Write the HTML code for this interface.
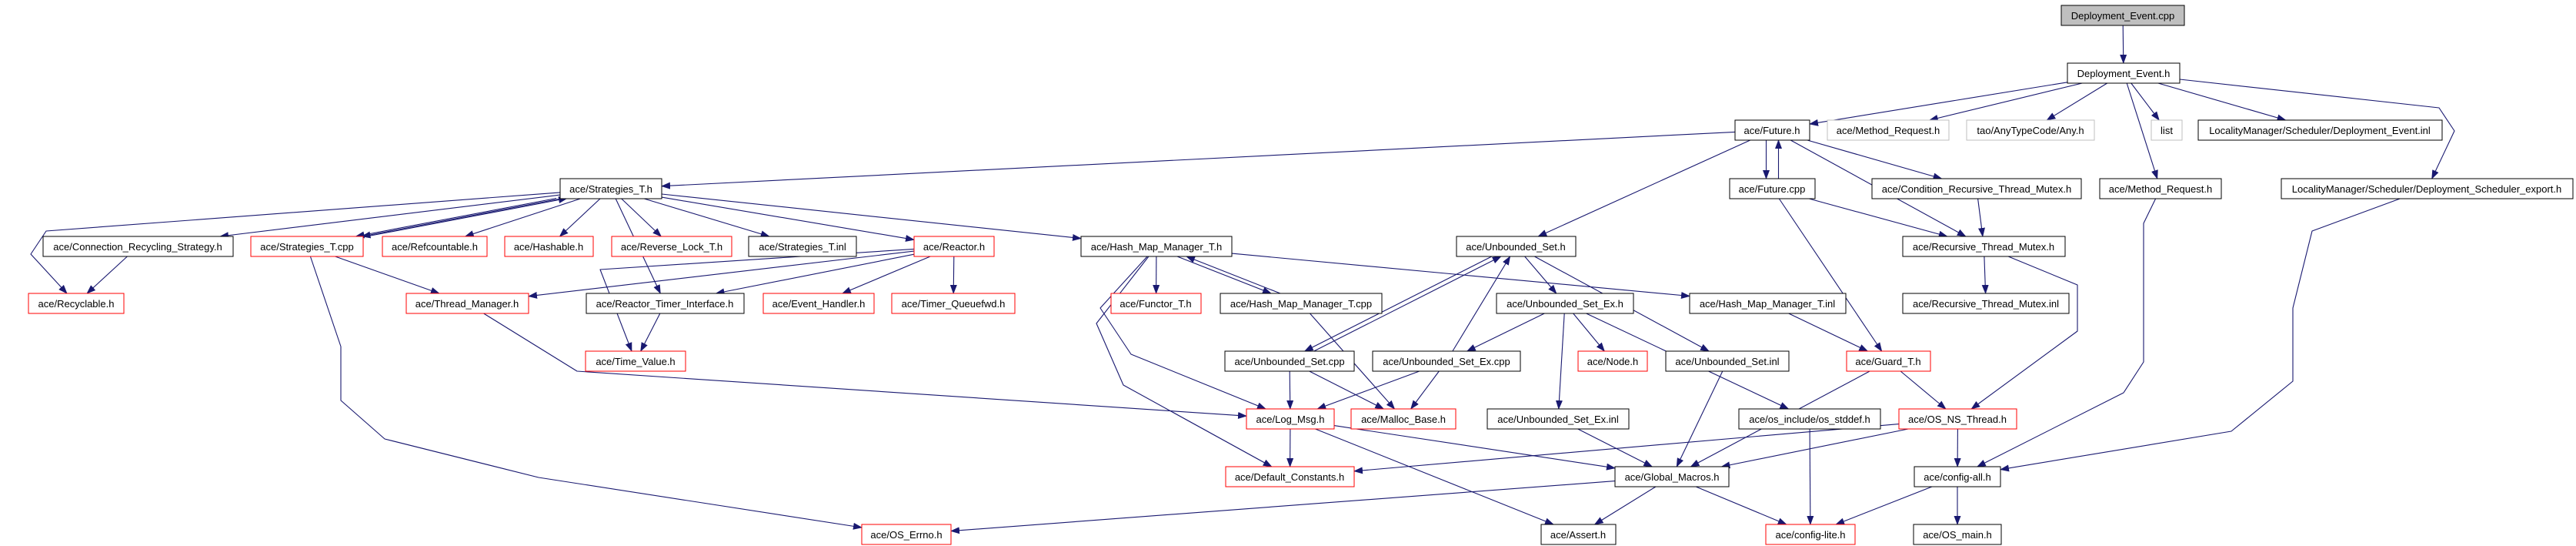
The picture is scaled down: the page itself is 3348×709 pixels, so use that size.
<!DOCTYPE html>
<html><head><meta charset="utf-8"><style>
html,body{margin:0;padding:0;background:#fff;}
svg{display:block;}
text{font-family:"Liberation Sans",sans-serif;font-size:13px;fill:#000;}
</style></head><body>
<svg id="g" width="3348" height="709" viewBox="0 0 3348 709" xmlns="http://www.w3.org/2000/svg">
<defs><marker id="a" markerWidth="12" markerHeight="9" refX="11" refY="4.5" orient="auto" markerUnits="userSpaceOnUse"><path d="M0,0 L12,4.5 L0,9 z" fill="#191970"/></marker></defs>
<g id="edges" stroke="#191970" stroke-width="1.1" fill="none" stroke-linejoin="round"></g>
<g id="nodes">
<rect id="dcpp" x="2679" y="7" width="160" height="26" fill="#bfbfbf" stroke="#000"/><text x="2759" y="25" text-anchor="middle">Deployment_Event.cpp</text>
<rect id="deh" x="2687" y="82" width="146" height="26" fill="#fff" stroke="#000"/><text x="2760" y="100" text-anchor="middle">Deployment_Event.h</text>
<rect id="fut" x="2255" y="156" width="97" height="26" fill="#fff" stroke="#000"/><text x="2303" y="174" text-anchor="middle">ace/Future.h</text>
<rect id="mrq2" x="2375" y="156" width="158" height="26" fill="#fff" stroke="#bfbfbf"/><text x="2454" y="174" text-anchor="middle">ace/Method_Request.h</text>
<rect id="any" x="2556" y="156" width="166" height="26" fill="#fff" stroke="#bfbfbf"/><text x="2639" y="174" text-anchor="middle">tao/AnyTypeCode/Any.h</text>
<rect id="list" x="2796" y="156" width="40" height="26" fill="#fff" stroke="#bfbfbf"/><text x="2816" y="174" text-anchor="middle">list</text>
<rect id="dinl" x="2857" y="156" width="317" height="26" fill="#fff" stroke="#000"/><text x="3015" y="174" text-anchor="middle">LocalityManager/Scheduler/Deployment_Event.inl</text>
<rect id="strh" x="728" y="232" width="132" height="26" fill="#fff" stroke="#000"/><text x="794" y="250" text-anchor="middle">ace/Strategies_T.h</text>
<rect id="futc" x="2248" y="232" width="111" height="26" fill="#fff" stroke="#000"/><text x="2303" y="250" text-anchor="middle">ace/Future.cpp</text>
<rect id="cond" x="2433" y="232" width="272" height="26" fill="#fff" stroke="#000"/><text x="2569" y="250" text-anchor="middle">ace/Condition_Recursive_Thread_Mutex.h</text>
<rect id="mrq" x="2729" y="232" width="158" height="26" fill="#fff" stroke="#000"/><text x="2808" y="250" text-anchor="middle">ace/Method_Request.h</text>
<rect id="sexp" x="2965" y="232" width="379" height="26" fill="#fff" stroke="#000"/><text x="3154" y="250" text-anchor="middle">LocalityManager/Scheduler/Deployment_Scheduler_export.h</text>
<rect id="crs" x="56" y="307" width="247" height="26" fill="#fff" stroke="#000"/><text x="179" y="325" text-anchor="middle">ace/Connection_Recycling_Strategy.h</text>
<rect id="stc" x="326" y="307" width="146" height="26" fill="#fff" stroke="#f00"/><text x="399" y="325" text-anchor="middle">ace/Strategies_T.cpp</text>
<rect id="refc" x="497" y="307" width="136" height="26" fill="#fff" stroke="#f00"/><text x="565" y="325" text-anchor="middle">ace/Refcountable.h</text>
<rect id="hash" x="656" y="307" width="115" height="26" fill="#fff" stroke="#f00"/><text x="713" y="325" text-anchor="middle">ace/Hashable.h</text>
<rect id="rev" x="795" y="307" width="156" height="26" fill="#fff" stroke="#f00"/><text x="873" y="325" text-anchor="middle">ace/Reverse_Lock_T.h</text>
<rect id="stinl" x="973" y="307" width="140" height="26" fill="#fff" stroke="#000"/><text x="1043" y="325" text-anchor="middle">ace/Strategies_T.inl</text>
<rect id="reac" x="1188" y="307" width="104" height="26" fill="#fff" stroke="#f00"/><text x="1240" y="325" text-anchor="middle">ace/Reactor.h</text>
<rect id="hmm" x="1405" y="307" width="196" height="26" fill="#fff" stroke="#000"/><text x="1503" y="325" text-anchor="middle">ace/Hash_Map_Manager_T.h</text>
<rect id="us" x="1893" y="307" width="155" height="26" fill="#fff" stroke="#000"/><text x="1970" y="325" text-anchor="middle">ace/Unbounded_Set.h</text>
<rect id="rtm" x="2473" y="307" width="211" height="26" fill="#fff" stroke="#000"/><text x="2578" y="325" text-anchor="middle">ace/Recursive_Thread_Mutex.h</text>
<rect id="recy" x="37" y="381" width="124" height="26" fill="#fff" stroke="#f00"/><text x="99" y="399" text-anchor="middle">ace/Recyclable.h</text>
<rect id="thr" x="528" y="381" width="159" height="26" fill="#fff" stroke="#f00"/><text x="607" y="399" text-anchor="middle">ace/Thread_Manager.h</text>
<rect id="rti" x="762" y="381" width="205" height="26" fill="#fff" stroke="#000"/><text x="864" y="399" text-anchor="middle">ace/Reactor_Timer_Interface.h</text>
<rect id="evh" x="992" y="381" width="144" height="26" fill="#fff" stroke="#f00"/><text x="1064" y="399" text-anchor="middle">ace/Event_Handler.h</text>
<rect id="tq" x="1159" y="381" width="160" height="26" fill="#fff" stroke="#f00"/><text x="1239" y="399" text-anchor="middle">ace/Timer_Queuefwd.h</text>
<rect id="fun" x="1444" y="381" width="117" height="26" fill="#fff" stroke="#f00"/><text x="1502" y="399" text-anchor="middle">ace/Functor_T.h</text>
<rect id="hmmc" x="1586" y="381" width="210" height="26" fill="#fff" stroke="#000"/><text x="1691" y="399" text-anchor="middle">ace/Hash_Map_Manager_T.cpp</text>
<rect id="usex" x="1945" y="381" width="178" height="26" fill="#fff" stroke="#000"/><text x="2034" y="399" text-anchor="middle">ace/Unbounded_Set_Ex.h</text>
<rect id="hmmi" x="2196" y="381" width="203" height="26" fill="#fff" stroke="#000"/><text x="2297" y="399" text-anchor="middle">ace/Hash_Map_Manager_T.inl</text>
<rect id="rtmi" x="2473" y="381" width="216" height="26" fill="#fff" stroke="#000"/><text x="2581" y="399" text-anchor="middle">ace/Recursive_Thread_Mutex.inl</text>
<rect id="tv" x="761" y="456" width="130" height="26" fill="#fff" stroke="#f00"/><text x="826" y="474" text-anchor="middle">ace/Time_Value.h</text>
<rect id="usc" x="1592" y="456" width="168" height="26" fill="#fff" stroke="#000"/><text x="1676" y="474" text-anchor="middle">ace/Unbounded_Set.cpp</text>
<rect id="usexc" x="1784" y="456" width="192" height="26" fill="#fff" stroke="#000"/><text x="1880" y="474" text-anchor="middle">ace/Unbounded_Set_Ex.cpp</text>
<rect id="node" x="2051" y="456" width="90" height="26" fill="#fff" stroke="#f00"/><text x="2096" y="474" text-anchor="middle">ace/Node.h</text>
<rect id="usi" x="2165" y="456" width="160" height="26" fill="#fff" stroke="#000"/><text x="2245" y="474" text-anchor="middle">ace/Unbounded_Set.inl</text>
<rect id="guard" x="2400" y="456" width="109" height="26" fill="#fff" stroke="#f00"/><text x="2454" y="474" text-anchor="middle">ace/Guard_T.h</text>
<rect id="log" x="1620" y="531" width="114" height="26" fill="#fff" stroke="#f00"/><text x="1677" y="549" text-anchor="middle">ace/Log_Msg.h</text>
<rect id="mal" x="1756" y="531" width="136" height="26" fill="#fff" stroke="#f00"/><text x="1824" y="549" text-anchor="middle">ace/Malloc_Base.h</text>
<rect id="usexi" x="1933" y="531" width="184" height="26" fill="#fff" stroke="#000"/><text x="2025" y="549" text-anchor="middle">ace/Unbounded_Set_Ex.inl</text>
<rect id="stddef" x="2260" y="531" width="184" height="26" fill="#fff" stroke="#000"/><text x="2352" y="549" text-anchor="middle">ace/os_include/os_stddef.h</text>
<rect id="osns" x="2468" y="531" width="153" height="26" fill="#fff" stroke="#f00"/><text x="2544" y="549" text-anchor="middle">ace/OS_NS_Thread.h</text>
<rect id="defc" x="1593" y="606" width="167" height="26" fill="#fff" stroke="#f00"/><text x="1676" y="624" text-anchor="middle">ace/Default_Constants.h</text>
<rect id="glob" x="2099" y="606" width="148" height="26" fill="#fff" stroke="#000"/><text x="2173" y="624" text-anchor="middle">ace/Global_Macros.h</text>
<rect id="call" x="2488" y="606" width="112" height="26" fill="#fff" stroke="#000"/><text x="2544" y="624" text-anchor="middle">ace/config-all.h</text>
<rect id="errno" x="1120" y="681" width="116" height="26" fill="#fff" stroke="#f00"/><text x="1178" y="699" text-anchor="middle">ace/OS_Errno.h</text>
<rect id="assert" x="2003" y="681" width="97" height="26" fill="#fff" stroke="#000"/><text x="2051" y="699" text-anchor="middle">ace/Assert.h</text>
<rect id="clite" x="2295" y="681" width="116" height="26" fill="#fff" stroke="#f00"/><text x="2353" y="699" text-anchor="middle">ace/config-lite.h</text>
<rect id="osmain" x="2487" y="681" width="114" height="26" fill="#fff" stroke="#000"/><text x="2544" y="699" text-anchor="middle">ace/OS_main.h</text>
</g>
</svg>
<script>
(function(){
var E=[["dcpp","deh"],["deh","fut"],["deh","mrq2"],["deh","any"],["deh","list"],["deh","dinl"],["deh","mrq"],["deh","sexp",0,[[3170,140],[3190,170]]],
["fut","strh"],["fut","futc",-8],["futc","fut",8],["fut","cond"],["fut","rtm"],["fut","us"],["futc","rtm"],["futc","guard"],
["cond","rtm"],["rtm","rtmi"],["rtm","osns",0,[[2700,370],[2700,430]]],["mrq","call",0,[[2786,290],[2786,470],[2760,510]]],["sexp","call",0,[[3005,300],[2980,400],[2980,495],[2900,560]]],["osns","call"],["osns","glob"],["osns","defc"],
["call","clite"],["call","osmain"],["guard","osns"],["guard","glob"],["hmmi","guard"],["glob","assert"],["glob","clite"],["glob","errno"],
["stddef","clite"],["usex","stddef"],["usex","node"],["usex","usexi"],["usex","usexc"],["us","usex"],["us","usi"],["us","usc",-6],
["usc","us",6],["usexc","us"],["usc","log"],["usc","mal"],["usexc","log"],["usexc","mal"],["usi","glob"],["usexi","glob"],
["log","defc"],["log","glob"],["log","assert"],["hmm","fun"],["hmm","hmmc",-6],["hmmc","hmm",6],["hmm","hmmi"],["hmm","log",0,[[1430,400],[1470,460]]],["hmm","defc",0,[[1425,420],[1460,500]]],
["hmmc","mal"],["strh","recy",0,[[60,300],[40,330]]],["strh","crs"],["strh","stc",-5],["strh","stc",3],["stc","strh",9],["strh","refc"],["strh","hash"],["strh","rev"],
["strh","stinl"],["strh","reac"],["strh","hmm"],["strh","rti"],["stc","thr"],["stc","errno",0,[[443,450],[443,520],[500,570],[700,620]]],["crs","recy"],["reac","thr"],["reac","rti"],
["reac","evh"],["reac","tq"],["reac","tv",0,[[780,350]]],["rti","tv"],["thr","log",0,[[750,482]]]];
function R(id){var r=document.getElementById(id);var x=+r.getAttribute("x"),y=+r.getAttribute("y"),w=+r.getAttribute("width"),h=+r.getAttribute("height");return{x:x,y:y,w:w,h:h,cx:x+w/2,cy:y+h/2};}
function clip(b,px,py,dx,dy){var tx=dx?(b.w/2)/Math.abs(dx):1e9,ty=dy?(b.h/2)/Math.abs(dy):1e9;var t=Math.min(tx,ty);return[px+dx*t,py+dy*t];}
var g=document.getElementById("edges");
E.forEach(function(e){var a=R(e[0]),b=R(e[1]),o=e[2]||0,v=e[3]||[];
var ax=a.cx+o,ay=a.cy,bx=b.cx+o,by=b.cy;
var f=v.length?v[0]:[bx,by],l=v.length?v[v.length-1]:[ax,ay];
var p=clip(a,ax,ay,f[0]-ax,f[1]-ay),q=clip(b,bx,by,l[0]-bx,l[1]-by);
var pts=[p].concat(v).concat([q]);
var d="M"+pts.map(function(t){return t[0].toFixed(1)+","+t[1].toFixed(1);}).join("L");
var P=document.createElementNS("http://www.w3.org/2000/svg","path");
P.setAttribute("d",d);P.setAttribute("marker-end","url(#a)");g.appendChild(P);});
})();
</script>
</body></html>
